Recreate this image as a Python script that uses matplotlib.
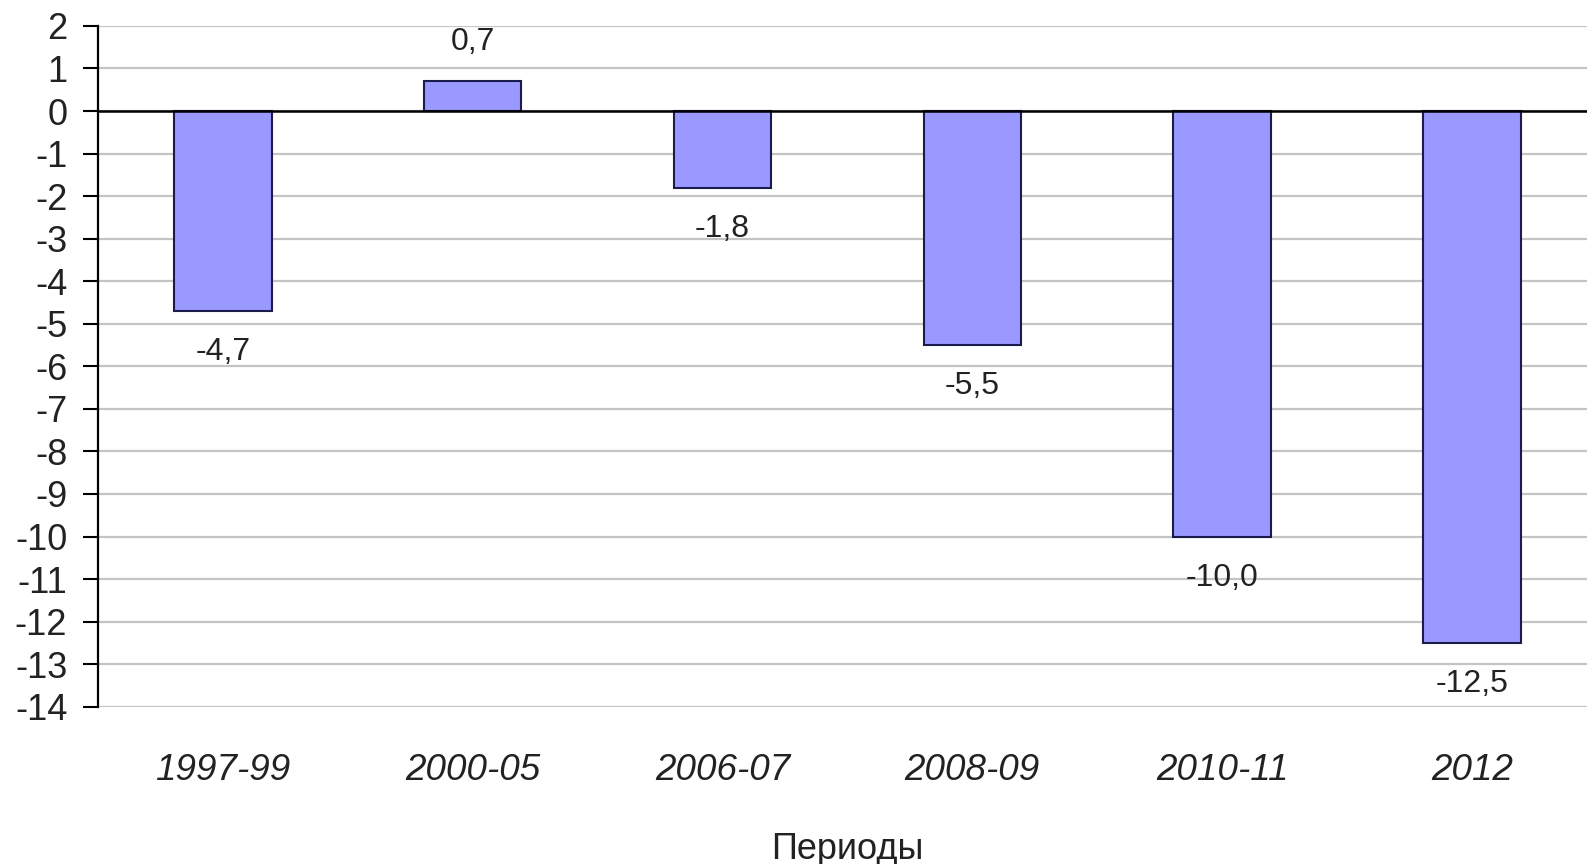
import matplotlib.pyplot as plt

plt.rcParams['font.family'] = ['Liberation Sans', 'DejaVu Sans']

# периоды и значения
periods = ['1997-99', '2000-05', '2006-07', '2008-09', '2010-11', '2012']
values = [-4.7, 0.7, -1.8, -5.5, -10.0, -12.5]
yticks = list(range(-14, 3))

fig = plt.figure(figsize=(15.87, 8.64), dpi=100)
ax = fig.add_axes([0.0617, 0.182, 0.9445, 0.788])

ax.set_ylim(-14, 2)
ax.set_xlim(-0.5, len(periods) - 0.5)
ax.set_yticks(yticks)
ax.set_yticklabels([str(t) for t in yticks], fontsize=26, color='#222222')
ax.grid(axis='y', color='#c4c4c4', linewidth=1.6)
ax.set_axisbelow(True)

x = range(len(periods))
ax.bar(x, values, width=0.39, color='#9999ff', edgecolor='#1c1c4c', linewidth=1.5, zorder=3)
ax.axhline(0, color='black', linewidth=1.8, zorder=4)

# подписи значений
for i, v in enumerate(values):
    txt = f'{v:.1f}'.replace('.', ',')
    off = 0.92 if v > 0 else -0.97
    ax.text(i, v + off, txt, ha='center', va='center', fontsize=23, color='#222222')

ax.set_xticks(list(x))
ax.set_xticklabels(periods, fontsize=26.5, style='italic', color='#222222')
ax.tick_params(axis='x', length=0, pad=33)
ax.tick_params(axis='y', length=11, width=1.5, pad=11)

for s in ['top', 'right', 'bottom']:
    ax.spines[s].set_visible(False)
ax.spines['left'].set_linewidth(1.6)

ax.set_xlabel('Периоды', fontsize=26, color='#222222', labelpad=32)

fig.savefig('out.png', dpi=100)
